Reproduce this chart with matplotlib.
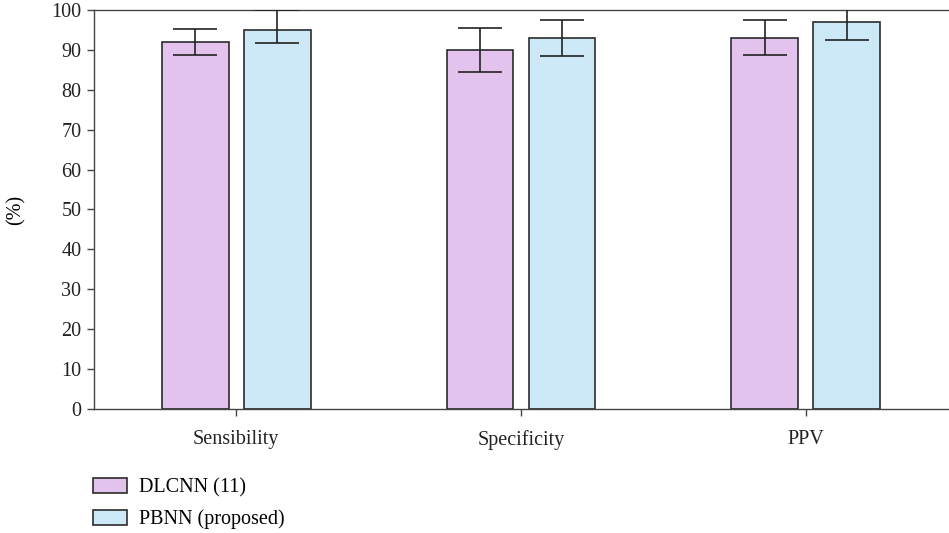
import matplotlib
matplotlib.use("agg")
import matplotlib.pyplot as plt
import numpy as np

categories = ["Sensibility", "Specificity", "PPV"]
dlcnn = [92.0, 90.0, 93.0]
dlcnn_err_lo = [3.3, 5.5, 4.4]
dlcnn_err_hi = [3.3, 5.5, 4.4]
pbnn = [95.0, 93.0, 97.0]
pbnn_err_lo = [3.2, 4.5, 4.5]
pbnn_err_hi = [5.0, 4.5, 4.5]
yticks = list(range(0, 101, 10))

plt.rcParams["font.family"] = ["Liberation Serif", "DejaVu Serif"]
plt.rcParams["font.size"] = 14.5

fig = plt.figure(figsize=(9.49, 5.33), dpi=100)
ax = fig.add_axes([0.099, 0.2326, 0.9, 0.7487])

x = np.arange(len(categories))
w = 0.235
off = 0.144
edge = "#2b2b2b"
ax.bar(x - off, dlcnn, w, color="#E4C2EE", edgecolor=edge, linewidth=1.2,
       label="DLCNN (11)", zorder=2)
ax.bar(x + off, pbnn, w, color="#CDE8F6", edgecolor=edge, linewidth=1.2,
       label="PBNN (proposed)", zorder=2)
ax.errorbar(x - off, dlcnn, yerr=[dlcnn_err_lo, dlcnn_err_hi], fmt="none",
            ecolor="#222222", elinewidth=1.2, capsize=16, capthick=1.2, zorder=3)
ax.errorbar(x + off, pbnn, yerr=[pbnn_err_lo, pbnn_err_hi], fmt="none",
            ecolor="#222222", elinewidth=1.2, capsize=16, capthick=1.2, zorder=3)

ax.set_xlim(-0.5, 2.5)
ax.set_ylim(0, 100)
ax.set_yticks(yticks)
ax.set_xticks(x)
ax.set_xticklabels(categories)
ax.set_ylabel("(%)")
ax.yaxis.set_label_coords(-0.08, 0.5)
ax.spines["right"].set_visible(False)
for s in ["left", "top", "bottom"]:
    ax.spines[s].set_color("#444444")
    ax.spines[s].set_linewidth(1.0)
ax.tick_params(axis="both", direction="out", length=5, width=1.0,
               color="#444444", labelcolor="#222222")
ax.tick_params(axis="y", pad=4)
ax.tick_params(axis="x", pad=10)

fig.legend(loc="upper left", bbox_to_anchor=(0.098, 0.104), frameon=False,
           handlelength=1.7, handleheight=0.8, handletextpad=0.6,
           labelspacing=0.62, borderaxespad=0, borderpad=0)

fig.savefig("out.png", dpi=100)
